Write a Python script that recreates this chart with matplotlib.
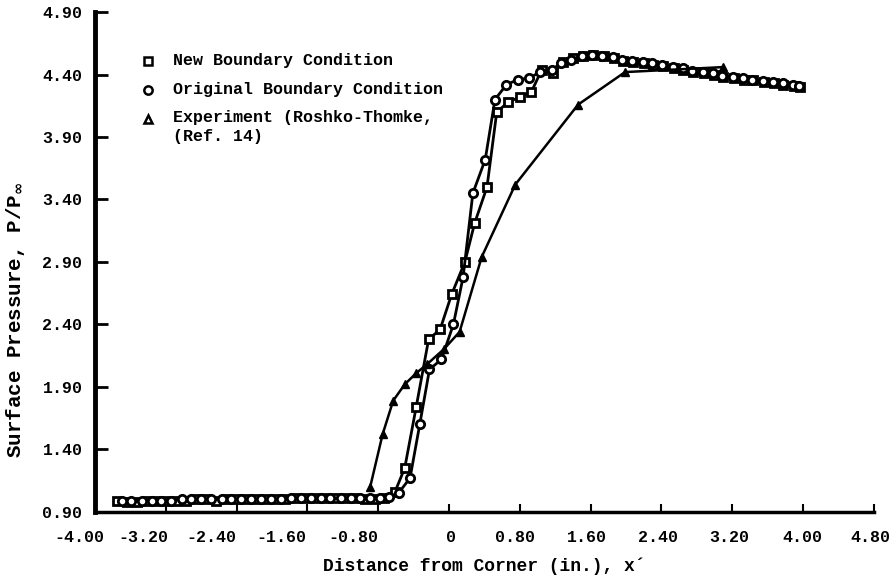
import matplotlib
matplotlib.use("Agg")
import matplotlib.pyplot as plt
import matplotlib.transforms as mtransforms

plt.rcParams['font.family'] = ['Liberation Mono', 'DejaVu Sans Mono']
plt.rcParams['font.weight'] = 'bold'
plt.rcParams['mathtext.fontset'] = 'dejavusans'

# New Boundary Condition (squares)
new_x = [-3.75, -3.64, -3.53, -3.41, -3.30, -3.19, -3.08, -2.97, -2.85, -2.74,
         -2.63, -2.52, -2.41, -2.29, -2.18, -2.07, -1.96, -1.85, -1.73, -1.62,
         -1.51, -1.40, -1.29, -1.17, -1.06, -0.95, -0.84, -0.73,
         -0.61, -0.50, -0.37, -0.23, -0.10, 0.03, 0.18, 0.29, 0.43, 0.54,
         0.67, 0.80, 0.93, 1.05, 1.18, 1.29, 1.40, 1.52, 1.63, 1.75, 1.86,
         1.97, 2.08, 2.20, 2.31, 2.42, 2.54, 2.65, 2.76, 2.88, 2.99, 3.10,
         3.22, 3.33, 3.44, 3.56, 3.67, 3.78, 3.90, 3.97]
new_y = [0.99, 0.98, 0.98, 0.99, 0.99, 0.99, 0.99, 0.99, 1.00, 1.00,
         0.99, 1.00, 1.00, 1.00, 1.00, 1.00, 1.00, 1.00, 1.01, 1.01,
         1.01, 1.01, 1.01, 1.01, 1.01, 1.00, 1.00, 1.01,
         1.06, 1.25, 1.74, 2.28, 2.36, 2.64, 2.90, 3.21, 3.50, 4.10,
         4.18, 4.22, 4.26, 4.44, 4.41, 4.50, 4.53, 4.55, 4.56, 4.55, 4.53,
         4.51, 4.50, 4.49, 4.48, 4.47, 4.45, 4.44, 4.42, 4.41, 4.40, 4.38,
         4.37, 4.36, 4.36, 4.34, 4.33, 4.32, 4.31, 4.30]

# Original Boundary Condition (circles)
orig_x = [-3.70, -3.59, -3.47, -3.36, -3.25, -3.14, -3.02, -2.91, -2.80, -2.69,
          -2.57, -2.46, -2.35, -2.24, -2.12, -2.01, -1.90, -1.79, -1.67, -1.56,
          -1.45, -1.34, -1.22, -1.11, -1.00, -0.89, -0.78, -0.68,
          -0.57, -0.44, -0.33, -0.22, -0.085, 0.05, 0.16, 0.27, 0.41, 0.52,
          0.65, 0.78, 0.90, 1.03, 1.16, 1.27, 1.38, 1.50, 1.62, 1.73, 1.85,
          1.96, 2.07, 2.19, 2.30, 2.41, 2.53, 2.64, 2.75, 2.87, 2.98, 3.09,
          3.21, 3.32, 3.43, 3.55, 3.66, 3.77, 3.89, 3.96]
orig_y = [0.99, 0.99, 0.99, 0.99, 0.99, 0.99, 1.00, 1.00, 1.00, 1.00,
          1.00, 1.00, 1.00, 1.00, 1.00, 1.00, 1.00, 1.01, 1.01, 1.01,
          1.01, 1.01, 1.01, 1.01, 1.01, 1.01, 1.01, 1.02,
          1.05, 1.17, 1.60, 2.04, 2.12, 2.40, 2.78, 3.45, 3.72, 4.20,
          4.32, 4.36, 4.37, 4.42, 4.44, 4.49, 4.52, 4.55, 4.56, 4.55, 4.54,
          4.52, 4.51, 4.50, 4.49, 4.48, 4.46, 4.45, 4.43, 4.42, 4.41, 4.39,
          4.38, 4.37, 4.36, 4.35, 4.34, 4.33, 4.32, 4.31]

# Experiment (Roshko-Thomke, Ref. 14) (triangles)
exp_x = [-0.89, -0.75, -0.63, -0.50, -0.37, -0.25, -0.06, 0.12, 0.37, 0.75,
         1.46, 1.99, 3.10]
exp_y = [1.10, 1.52, 1.79, 1.92, 2.01, 2.08, 2.20, 2.34, 2.94, 3.52,
         4.16, 4.42, 4.46]

x_ticks = [-4.00, -3.20, -2.40, -1.60, -0.80, 0, 0.80, 1.60, 2.40, 3.20, 4.00, 4.80]
x_labels = ['-4.00', '-3.20', '-2.40', '-1.60', '-0.80', '0', '0.80', '1.60',
            '2.40', '3.20', '4.00', '4.80']
y_ticks = [0.90, 1.40, 1.90, 2.40, 2.90, 3.40, 3.90, 4.40, 4.90]
# the typed labels sit a little left of their ticks (pixels)
x_label_shift = [-16, -22, -25, -26, -25, 2, -5, -4, -3, -3, -1, -3]

fig = plt.figure(figsize=(8.92, 5.77), dpi=100)
ax = fig.add_axes([0.1065, 0.113, 0.873, 0.866])

ax.plot(new_x, new_y, color='black', lw=2, marker='s', ms=6, mfc='white',
        mec='black', mew=2)
ax.plot(orig_x, orig_y, color='black', lw=2, marker='o', ms=6, mfc='white',
        mec='black', mew=2)
ax.plot(exp_x, exp_y, color='black', lw=1.8, marker='^', ms=5.5, mfc='black',
        mec='black')

ax.set_xlim(-4.0, 4.8)
ax.set_ylim(0.9, 4.9)
ax.set_xticks(x_ticks)
ax.set_xticklabels(x_labels)
ax.set_yticks(y_ticks)
ax.set_yticklabels(['%.2f' % v for v in y_ticks])

ax.spines['top'].set_visible(False)
ax.spines['right'].set_visible(False)
ax.spines['left'].set_linewidth(3.5)
ax.spines['bottom'].set_linewidth(2.5)
ax.tick_params(axis='y', direction='in', length=9, width=2, labelsize=12, pad=9)
ax.tick_params(axis='x', direction='in', length=6, width=1.5, labelsize=12, pad=13)

for lab, dx in zip(ax.get_xticklabels(), x_label_shift):
    lab.set_transform(lab.get_transform() +
                      mtransforms.ScaledTranslation(dx / 100.0, 0, fig.dpi_scale_trans))

ax.set_xlabel("Distance from Corner (in.), x\u00b4", fontsize=13, labelpad=9,
              fontweight='bold')
ax.set_ylabel("Surface Pressure, P/P$_\\infty$", fontsize=15, fontweight='bold')
ax.yaxis.set_label_coords(-0.087, 0.384)

# legend drawn by hand to keep the two-line third entry aligned
tr = ax.transAxes
leg_entries = [('s', 'New Boundary Condition'),
               ('o', 'Original Boundary Condition'),
               ('^', 'Experiment (Roshko-Thomke,\n(Ref. 14)')]
for i, (m, label) in enumerate(leg_entries):
    yy = 0.903 - i * 0.0585
    ax.plot([0.068], [yy], transform=tr, marker=m, ms=6, mfc='white',
            mec='black', mew=1.8, ls='none', clip_on=False)
    if '\n' in label:
        ax.text(0.100, yy + 0.018, label, transform=tr, fontsize=12,
                fontweight='bold', va='top', linespacing=1.35)
    else:
        ax.text(0.100, yy, label, transform=tr, fontsize=12,
                fontweight='bold', va='center')

fig.savefig('out.png', dpi=100)
